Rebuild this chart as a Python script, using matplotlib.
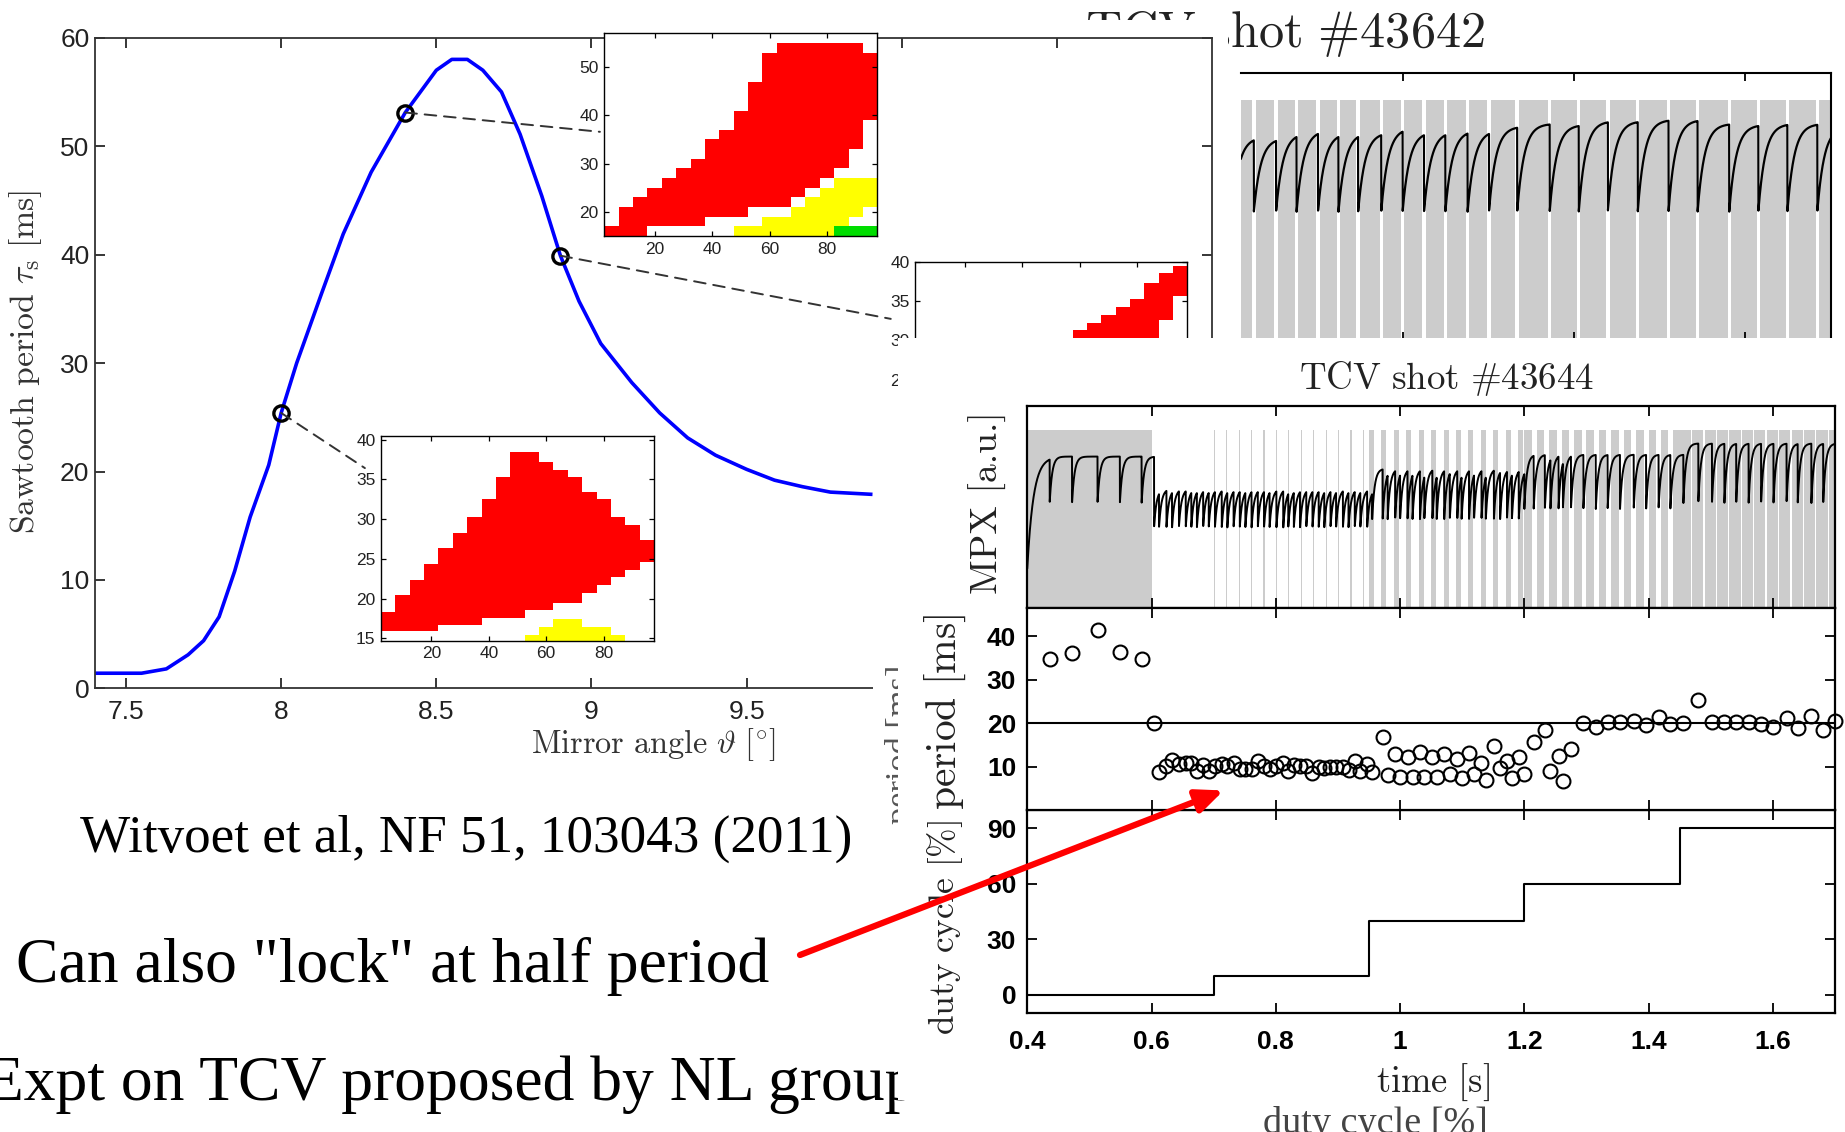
import numpy as np
import matplotlib
matplotlib.use("Agg")
import matplotlib.pyplot as plt
from matplotlib.patches import Rectangle, ConnectionPatch

plt.rcParams['mathtext.fontset'] = 'cm'
plt.rcParams['font.family'] = ['Liberation Sans', 'DejaVu Sans']

W, H = 1845, 1132

# sawtooth period against ECCD mirror angle
theta = [7.40, 7.55, 7.63, 7.70, 7.75, 7.80, 7.85, 7.90, 7.96, 8.00, 8.05, 8.13,
         8.20, 8.29, 8.40, 8.50, 8.55, 8.60, 8.65, 8.71, 8.77, 8.84, 8.90, 8.96,
         9.03, 9.13, 9.22, 9.31, 9.40, 9.50, 9.59, 9.68, 9.77, 9.90]
tau_s = [1.4, 1.4, 1.8, 3.1, 4.4, 6.6, 10.8, 15.8, 20.6, 25.4, 30.0, 36.4,
         41.9, 47.6, 53.1, 57.0, 58.0, 58.0, 57.0, 55.0, 51.1, 45.4, 39.9, 35.7,
         31.8, 28.2, 25.4, 23.1, 21.5, 20.2, 19.2, 18.6, 18.1, 17.9]
mark_theta = [8.0, 8.4, 8.9]
mark_tau = [25.4, 53.1, 39.9]

# locking maps (modulation duty cycle vs period), one column per duty value
cols = [5, 10, 15, 20, 25, 30, 35, 40, 45, 50, 55, 60, 65, 70, 75, 80, 85, 90, 95]
map1_red_lo = [15, 15, 15, 17, 17, 17, 17, 19, 19, 19, 21, 21, 21, 23, 25, 27, 29, 33, 39]
map1_red_hi = [17, 21, 23, 25, 27, 29, 31, 35, 37, 41, 47, 53, 55, 55, 55, 55, 55, 55, 53]
map1_yel_x = [50, 55, 60, 65, 70, 75, 80, 85, 90, 95]
map1_yel_lo = [15, 15, 15, 15, 15, 15, 15, 17, 19, 21]
map1_yel_hi = [17, 17, 19, 19, 21, 23, 25, 27, 27, 27]
map1_grn_x = [85, 90, 95]
map1_grn_lo = [15, 15, 15]
map1_grn_hi = [17, 17, 17]

map2_red_lo = [15.9, 15.9, 15.9, 15.9, 16.7, 16.7, 16.7, 17.6, 17.6, 17.6,
               18.6, 18.6, 19.5, 19.5, 20.7, 21.7, 22.7, 23.6, 24.6]
map2_red_hi = [18.3, 20.5, 22.4, 24.3, 26.4, 28.3, 30.3, 32.5, 35.3, 38.4,
               38.4, 37.2, 36.2, 35.3, 33.4, 32.5, 30.3, 29.3, 27.4]
map2_yel_x = [55, 60, 65, 70, 75, 80, 85]
map2_yel_hi = [15.4, 16.4, 17.4, 17.4, 16.4, 16.4, 15.4]

map3_red_x = [60, 65, 70, 75, 80, 85, 90, 95]
map3_red_lo = [22, 23, 24, 25, 27, 30, 32.6, 35.6]
map3_red_hi = [31.3, 32.2, 33.2, 34.2, 35.3, 37.3, 38.5, 39.5]

# shot 43642: sawtooth crashes, one per modulation gap
tr_crash_t = [0.800, 0.825, 0.851, 0.875, 0.900, 0.924, 0.947, 0.974, 0.999, 1.024,
              1.049, 1.075, 1.100, 1.133, 1.171, 1.205, 1.239, 1.274, 1.310, 1.344,
              1.381, 1.415, 1.449, 1.484]
tr_peak = [0.76, 0.756, 0.775, 0.785, 0.775, 0.777, 0.777, 0.794, 0.78, 0.78,
           0.785, 0.785, 0.80, 0.81, 0.806, 0.82, 0.82, 0.825, 0.825, 0.81,
           0.806, 0.81, 0.81, 0.80]
tr_low = 0.48

# shot 43644: sawtooth period at each crash
period_t = [0.436, 0.472, 0.513, 0.549, 0.584, 0.604,
            0.612, 0.624, 0.633, 0.644, 0.655, 0.664, 0.673, 0.683, 0.692, 0.702,
            0.713, 0.722, 0.732, 0.742, 0.751, 0.761, 0.771, 0.781, 0.790, 0.801,
            0.812, 0.820, 0.829, 0.839, 0.849, 0.859, 0.869, 0.878, 0.888, 0.897,
            0.908, 0.917, 0.927, 0.936, 0.947, 0.955,
            0.972, 0.980, 0.992, 1.000, 1.012, 1.020, 1.032, 1.039, 1.052, 1.059,
            1.071, 1.080, 1.092, 1.099, 1.111, 1.119, 1.131, 1.138, 1.151, 1.161,
            1.172, 1.180, 1.191, 1.200, 1.215, 1.233, 1.242, 1.255, 1.262, 1.275,
            1.295, 1.315, 1.334, 1.354, 1.376, 1.396, 1.416, 1.435, 1.456, 1.480,
            1.502, 1.522, 1.541, 1.561, 1.581, 1.601, 1.622, 1.640, 1.662, 1.681, 1.700]
period_ms = [34.9, 36.3, 41.4, 36.5, 34.9, 20.0,
             8.8, 10.2, 11.5, 10.5, 10.8, 10.9, 9.0, 10.4, 9.0, 10.2,
             10.5, 10.2, 10.9, 9.4, 9.4, 9.4, 11.3, 10.2, 9.4, 10.2,
             10.9, 9.0, 10.3, 10.2, 10.2, 8.6, 9.8, 9.6, 9.8, 9.8,
             9.9, 9.2, 11.4, 9.0, 10.5, 8.8,
             16.8, 8.0, 12.8, 7.5, 12.2, 7.5, 13.3, 7.5, 12.2, 7.5,
             13.0, 8.3, 11.8, 7.3, 13.2, 8.3, 10.9, 6.9, 14.7, 9.6,
             11.3, 7.4, 12.3, 8.3, 15.6, 18.5, 8.9, 12.4, 6.7, 14.1,
             20.0, 19.2, 20.2, 20.4, 20.6, 19.6, 21.5, 19.9, 20.0, 25.3,
             20.4, 20.2, 20.2, 20.2, 19.9, 19.2, 21.1, 19.0, 21.7, 18.5, 20.6]

# ECH duty cycle programme, 20 ms modulation after continuous heating
duty_t = [0.4, 0.7, 0.95, 1.2, 1.45, 1.7]
duty_pct = [0, 10, 40, 60, 90, 90]
ech_cw = [0.4, 0.6]
mod_period = 0.02

# MPX levels in each heating phase
mpx_phase_t = [0.40, 0.60, 0.95, 1.20, 1.45]
mpx_top = [0.75, 0.59, 0.69, 0.76, 0.815]
mpx_low = [0.52, 0.40, 0.44, 0.49, 0.52]
mpx_start = 0.2

fig = plt.figure(figsize=(W / 100, H / 100), dpi=100)
renderer = fig.canvas.get_renderer()


def frame(x0, y0, x1, y1):
    return [x0 / W, 1 - y1 / H, (x1 - x0) / W, (y1 - y0) / H]


def blank(x0, y0, x1, y1, z):
    fig.add_artist(Rectangle((x0 / W, 1 - y1 / H), (x1 - x0) / W, (y1 - y0) / H,
                             transform=fig.transFigure, facecolor='white',
                             edgecolor='none', zorder=z))


def put(x, y, s, length, rot=0, **kw):
    t = fig.text(x / W, 1 - y / H, s, rotation=rot, **kw)
    bb = t.get_window_extent(renderer)
    cur = bb.height if rot else bb.width
    t.set_fontsize(t.get_fontsize() * length / cur)
    return t


def sawtooth(t, crashes, top, low, tau):
    k = np.searchsorted(crashes, t, side='right') - 1
    return top[k] - (top[k] - low[k]) * np.exp(-(t - crashes[k]) / tau[k])


# ---- shot 43642 (partly hidden) ----
ax_tr = fig.add_axes(frame(1241, 73, 1831, 340), zorder=1)
gaps = np.array(tr_crash_t)
gap_w = 0.004
nxt = np.append(gaps[1:], 1.53)
ax_tr.bar(gaps + gap_w / 2, 0.9, width=nxt - gaps - gap_w, align='edge',
          color='#cccccc', lw=0)
tt = np.linspace(0.81, 1.5, 5000)
ax_tr.plot(tt, sawtooth(tt, gaps, np.array(tr_peak), np.full(len(gaps), tr_low),
                        np.full(len(gaps), 0.008)), color='k', lw=1.6)
ax_tr.set_xlim(0.81, 1.5)
ax_tr.set_ylim(0, 1)
ax_tr.set_xticks([1.0, 1.2, 1.4], [])
ax_tr.set_yticks([])
ax_tr.spines['left'].set_visible(False)
for s in ax_tr.spines.values():
    s.set_linewidth(1.5)
ax_tr.tick_params(direction='in', top=True, length=6, width=1.3)
put(1285, 47, r'$\mathrm{TCV\ shot\ \#43642}$', 406, ha='center', va='baseline',
    zorder=1, color='#222222')

# ---- sawtooth period scan ----
blank(0, 20, 1228, 790, 2)
ax = fig.add_axes(frame(95, 37.7, 1212, 688.4), zorder=3)
ax.plot(theta, tau_s, color='#0000ff', lw=2.6)
ax.plot(mark_theta, mark_tau, 'o', ms=11, mfc='none', mec='k', mew=2.4)
ax.set_xlim(7.4, 11)
ax.set_ylim(0, 60)
ax.set_xticks([7.5, 8, 8.5, 9, 9.5, 10, 10.5], ['7.5', '8', '8.5', '9', '9.5', '', ''])
ax.set_yticks(range(0, 61, 10))
ax.tick_params(direction='in', top=True, right=True, length=7, width=1.1,
               labelsize=19, labelcolor='#222222')
ax.tick_params(axis='x', pad=8)
ax.tick_params(axis='y', pad=4)
for s in ax.spines.values():
    s.set_linewidth(1.3)
    s.set_color('#333333')
put(26, 361.5, r'$\mathrm{Sawtooth\ period}\ \tau_{\mathrm{s}}\ [\mathrm{ms}]$', 347,
    rot=90, ha='center', va='center', zorder=3, color='#333333')
put(653, 745, r'$\mathrm{Mirror\ angle}\ \vartheta\ [^{\circ}]$', 247,
    ha='center', va='center', zorder=3, color='#333333')


def map_axes(rect, ylim, yticks, xlabels=True):
    m = fig.add_axes(frame(*rect), zorder=4)
    m.set_xlim(2.5, 97.5)
    m.set_ylim(*ylim)
    m.set_xticks([20, 40, 60, 80])
    if not xlabels:
        m.set_xticklabels([])
    m.set_yticks(yticks)
    m.tick_params(direction='in', top=True, right=True, length=3.5, width=0.9,
                  labelsize=12.5, labelcolor='#222222', pad=4)
    for s in m.spines.values():
        s.set_linewidth(1.0)
    return m


m1 = map_axes((604.3, 33.3, 877.3, 236), (15, 57), [20, 30, 40, 50])
m1.bar(cols, np.subtract(map1_red_hi, map1_red_lo), bottom=map1_red_lo, width=5,
       color='#ff0000', lw=0)
m1.bar(map1_yel_x, np.subtract(map1_yel_hi, map1_yel_lo), bottom=map1_yel_lo, width=5,
       color='#ffff00', lw=0)
m1.bar(map1_grn_x, np.subtract(map1_grn_hi, map1_grn_lo), bottom=map1_grn_lo, width=5,
       color='#00dd00', lw=0)

m2 = map_axes((381, 435.7, 654, 640.7), (14.7, 40.5), [15, 20, 25, 30, 35, 40])
m2.bar(cols, np.subtract(map2_red_hi, map2_red_lo), bottom=map2_red_lo, width=5,
       color='#ff0000', lw=0)
m2.bar(map2_yel_x, np.subtract(map2_yel_hi, 14.0), bottom=14.0, width=5,
       color='#ffff00', lw=0)

m3 = map_axes((915, 261.7, 1187.3, 458.2), (15, 40), [25, 30, 35, 40], xlabels=False)
m3.bar(map3_red_x, np.subtract(map3_red_hi, map3_red_lo), bottom=map3_red_lo, width=5,
       color='#ff0000', lw=0)

# dashed leaders from the marked points to their maps
for (px, py), m, end in zip(zip(mark_theta, mark_tau), [m2, m1, m3],
                            [(-0.059, 0.842), (-0.016, 0.514), (-0.089, 0.709)]):
    con = ConnectionPatch(xyA=(px, py), coordsA=ax.transData, xyB=end,
                          coordsB=m.transAxes, color='#333333', lw=1.4,
                          linestyle=(0, (6, 4)), zorder=3.5)
    fig.add_artist(con)

# ---- underlying sheet, only edges show ----
blank(873, 400, 1845, 1132, 5)
put(900, 744, 'period [ms]', 159, rot=90, ha='center', va='center',
    family='Liberation Serif', color='#555555', zorder=5.2)
put(1375, 1133, 'duty cycle [%]', 225, ha='center', va='baseline',
    family='Liberation Serif', color='#444444', zorder=5.2)

# ---- slide text ----
put(80, 852, 'Witvoet et al, NF 51, 103043 (2011)', 773, ha='left', va='baseline',
    family='Liberation Serif', zorder=5.5)
big = put(16.5, 982, 'Can also "lock" at half period', 754.5, ha='left', va='baseline',
          family='Liberation Serif', zorder=5.5)
fig.text(-15 / W, 1 - 1100 / H, 'Expt on TCV proposed by NL group', ha='left',
         va='baseline', family='Liberation Serif', fontsize=big.get_fontsize(),
         zorder=5.5)

# ---- shot 43644 ----
blank(898, 337.7, 1845, 1100, 6)
tfont = dict(fontfamily='Liberation Sans', fontweight='bold')
tticks = [0.4, 0.6, 0.8, 1.0, 1.2, 1.4, 1.6]

ax_mpx = fig.add_axes(frame(1027.3, 406, 1835, 608.3), zorder=7)
ax_per = fig.add_axes(frame(1027.3, 608.3, 1835, 810), zorder=8)
ax_dut = fig.add_axes(frame(1027.3, 810, 1835, 1013), zorder=7)

ax_mpx.bar(ech_cw[0], 0.88, width=ech_cw[1] - ech_cw[0], align='edge',
           color='#cccccc', lw=0)
for t0, t1, d in zip(duty_t[:-1], duty_t[1:], duty_pct[:-1]):
    if d == 0:
        continue
    starts = np.arange(t0, t1 - 1e-9, mod_period)
    ax_mpx.bar(starts, 0.88, width=mod_period * d / 100, align='edge',
               color='#cccccc', lw=0)

crashes = np.concatenate([[0.40], period_t])
phase = np.searchsorted(mpx_phase_t, crashes, side='right') - 1
top = np.array(mpx_top)[phase]
low = np.array(mpx_low)[phase]
low[0] = mpx_start
tau = np.full(len(crashes), 0.004)
tau[0] = 0.01
tl = np.linspace(0.4, 1.7, 9000)
ax_mpx.plot(tl, sawtooth(tl, crashes, top, low, tau), color='k', lw=1.4)
ax_mpx.set_ylim(0, 1)
ax_mpx.set_yticks([])

ax_per.plot(period_t, period_ms, 'o', ms=10, mfc='none', mec='k', mew=1.5,
            clip_on=False)
ax_per.axhline(20, color='k', lw=1.5)
ax_per.set_ylim(0, 46.5)
ax_per.set_yticks([10, 20, 30, 40], ['10', '20', '30', '40'], **tfont)

ax_dut.step(duty_t, duty_pct, where='post', color='k', lw=1.5)
ax_dut.set_ylim(-10, 100)
ax_dut.set_yticks([0, 30, 60, 90], ['0', '30', '60', '90'], **tfont)

for a in (ax_mpx, ax_per, ax_dut):
    a.set_xlim(0.4, 1.7)
    a.set_xticks(tticks, [])
    a.tick_params(direction='in', top=True, right=True, length=7, width=1.3,
                  labelsize=19, pad=8)
    for s in a.spines.values():
        s.set_linewidth(1.6)
ax_dut.set_xticks(tticks, ['0.4', '0.6', '0.8', '1', '1.2', '1.4', '1.6'], **tfont)
ax_dut.tick_params(axis='x', pad=12)

put(1447, 389.5, r'$\mathrm{TCV\ shot\ \#43644}$', 299, ha='center', va='baseline',
    zorder=7, color='#222222')
put(988, 503, 'MPX [a.u.]', 182, rot=90, ha='center', va='center',
    family='cmr10', zorder=7, color='#222222')
put(945, 712, r'$\mathrm{period\ [ms]}$', 200, rot=90, ha='center', va='center',
    zorder=7, color='#222222')
put(945, 927, r'$\mathrm{duty\ cycle\ [\%]}$', 218, rot=90, ha='center', va='center',
    zorder=7, color='#222222')
put(1433, 1082, r'$\mathrm{time\ [s]}$', 117, ha='center', va='center',
    zorder=7, color='#222222')

# arrow from the slide text to the half-period crashes
ax_per.annotate('', xy=(0.716, 4.5), xycoords='data',
                xytext=(800 / W, 1 - 955 / H), textcoords='figure fraction',
                annotation_clip=False,
                arrowprops=dict(arrowstyle='-|>,head_length=1.6,head_width=0.7',
                                color='#ff0000', lw=4.5, shrinkA=0, shrinkB=0))

fig.savefig('out.png', dpi=100)
